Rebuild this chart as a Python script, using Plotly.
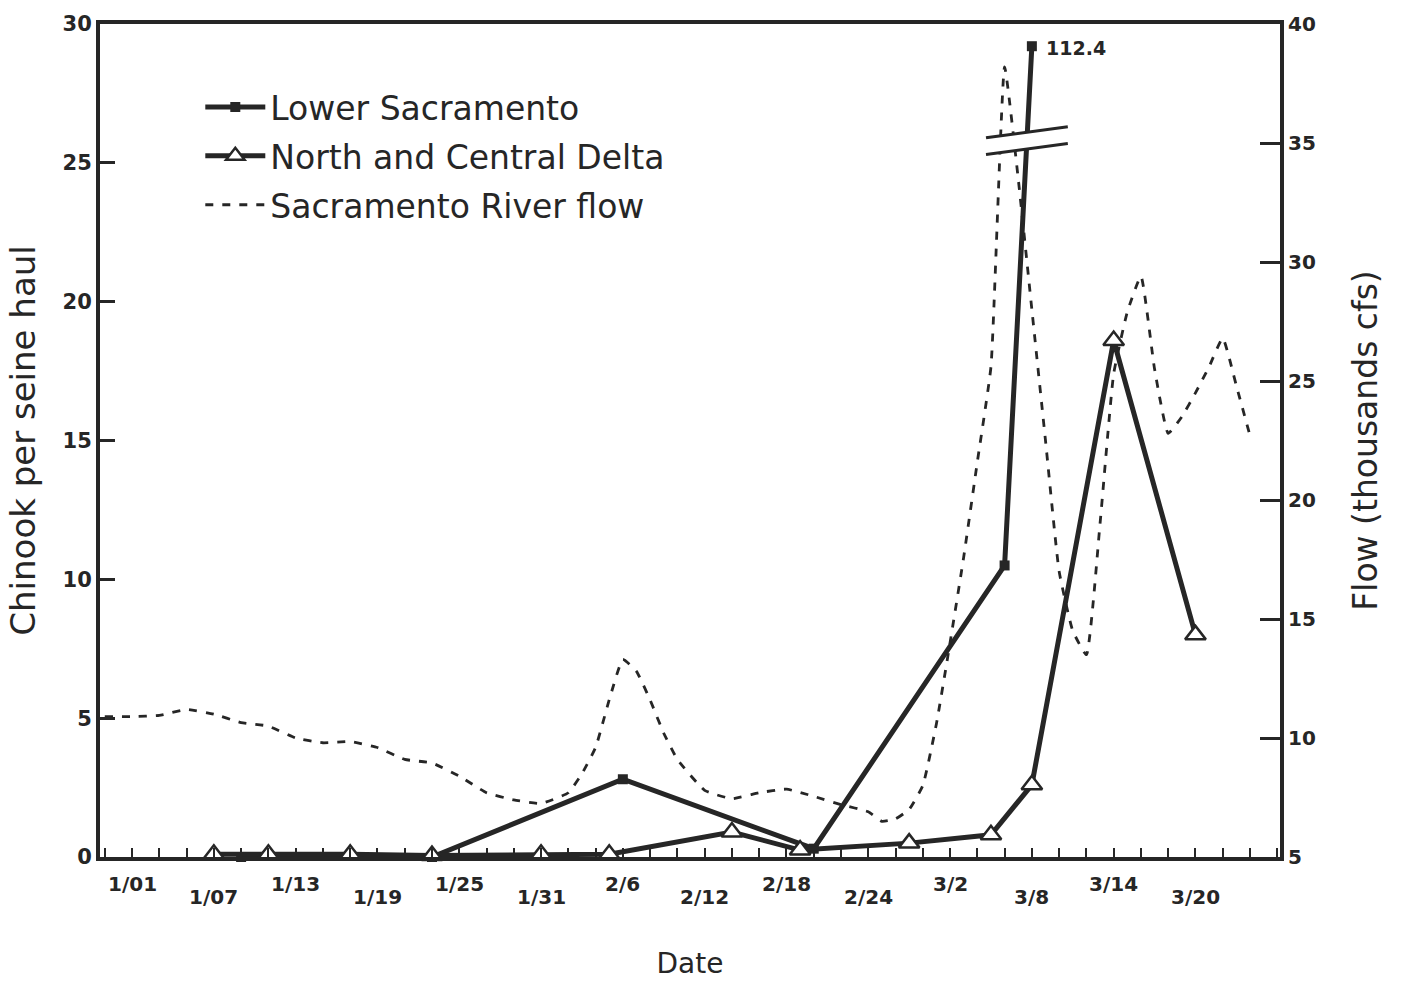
import plotly.graph_objects as go

# Day index counted from 1 January (0 = 1/01, 59 = 3/01)
tick_days = [0, 6, 12, 18, 24, 30, 36, 42, 48, 54, 60, 66, 72, 78]
tick_labels = ["1/01", "1/07", "1/13", "1/19", "1/25", "1/31", "2/6",
               "2/12", "2/18", "2/24", "3/2", "3/8", "3/14", "3/20"]

# Chinook per seine haul
ls_days = [8, 22, 36, 50, 64, 66]
ls_catch = [0.0, 0.0, 2.8, 0.3, 10.5, 112.4]

delta_days = [6, 10, 16, 22, 30, 35, 44, 49, 57, 63, 66, 72, 78]
delta_catch = [0.1, 0.1, 0.1, 0.05, 0.1, 0.1, 0.9, 0.25, 0.5, 0.8, 2.6, 18.6, 8.0]

# Sacramento River flow (thousands cfs)
flow_days = [-2, 0, 2, 4, 6, 8, 10, 12, 14, 16, 18, 20, 22, 24, 26, 28, 30, 32, 33, 34,
             35, 36, 37, 38, 39, 40, 42, 44, 46, 48, 50, 52, 54, 55, 56, 57, 58, 59, 60, 61,
             62, 63, 64, 65, 66, 67, 68, 69, 70, 71, 72, 73, 74, 75, 76, 77, 78, 79, 80, 81,
             82]
flow_kcfs = [10.9, 10.9, 10.95, 11.2, 11.0, 10.65, 10.5, 10.0, 9.8, 9.85,
             9.6, 9.1, 8.95, 8.4, 7.7, 7.4, 7.25, 7.7, 8.5, 9.6,
             11.6, 13.3, 12.8, 11.6, 10.2, 9.1, 7.8, 7.45, 7.7, 7.85,
             7.55, 7.2, 6.9, 6.5, 6.6, 7.0, 8.0, 10.6, 14.0, 17.6,
             21.6, 25.6, 38.2, 33.5, 28.0, 22.5, 17.0, 14.5, 13.5, 19.0,
             25.3, 27.9, 29.4, 25.5, 22.8, 23.5, 24.5, 25.6, 26.8, 24.8,
             22.7]

INK = "#262626"
FONT = "DejaVu Sans"

# Broken left axis: values above BREAK_AT are squeezed into the slot under the top frame
BREAK_AT = 25.8
TOP_SLOT = 29.2
top_value = max(ls_catch)


def on_axis(v):
    if v <= BREAK_AT:
        return v
    return BREAK_AT + (v - BREAK_AT) * (TOP_SLOT - BREAK_AT) / (top_value - BREAK_AT)


ls_shown = [on_axis(v) for v in ls_catch]

fig = go.Figure()

fig.add_trace(go.Scatter(
    x=flow_days, y=flow_kcfs, yaxis="y2", mode="lines",
    name="Sacramento River flow",
    line=dict(color=INK, width=2.8, dash="8px,9px", shape="spline", smoothing=0.4),
    legendrank=3, legendgroup="flow",
))

fig.add_trace(go.Scatter(
    x=ls_days, y=ls_shown, mode="lines+markers", name="Lower Sacramento",
    customdata=ls_catch,
    line=dict(color=INK, width=5),
    marker=dict(symbol="square", size=10, color=INK),
    cliponaxis=False, legendrank=1, legendgroup="lower",
))

fig.add_trace(go.Scatter(
    x=delta_days, y=delta_catch, mode="lines+markers", name="North and Central Delta",
    line=dict(color=INK, width=5),
    marker=dict(symbol="triangle-up", size=18, color="white",
                line=dict(color=INK, width=2.5)),
    cliponaxis=False, legendrank=2, legendgroup="delta",
))

# value label on the off-scale point
fig.add_annotation(x=ls_days[-1], y=ls_shown[-1], text=f"{top_value:.1f}",
                   showarrow=False, xanchor="left", xshift=12, yshift=-2,
                   font=dict(family=FONT, size=19, color=INK, weight="bold"))

# axis-break symbol where the Lower Sacramento line crosses BREAK_AT
i = next(k for k in range(1, len(ls_shown)) if ls_shown[k] > BREAK_AT)
x0, x1 = ls_days[i - 1], ls_days[i]
y0, y1 = ls_shown[i - 1], ls_shown[i]
xb = x0 + (BREAK_AT - y0) / (y1 - y0) * (x1 - x0)
half_w, tilt, gap = 3.0, 0.2, 0.3
fig.add_shape(type="path", layer="above", line=dict(width=0), fillcolor="white",
              path=(f"M{xb - half_w},{BREAK_AT - gap - tilt} L{xb + half_w},{BREAK_AT - gap + tilt} "
                    f"L{xb + half_w},{BREAK_AT + gap + tilt} L{xb - half_w},{BREAK_AT + gap - tilt} Z"))
for s in (-gap, gap):
    fig.add_shape(type="line", layer="above", x0=xb - half_w, x1=xb + half_w,
                  y0=BREAK_AT + s - tilt, y1=BREAK_AT + s + tilt,
                  line=dict(color=INK, width=3))

# staggered date labels
for k, (d, lab) in enumerate(zip(tick_days, tick_labels)):
    fig.add_annotation(x=d, y=0, yref="paper", text=lab, showarrow=False,
                       yanchor="middle", yshift=-27 if k % 2 == 0 else -40,
                       font=dict(family=FONT, size=20, color=INK, weight="bold"))

fig.update_layout(
    width=1403, height=983,
    margin=dict(l=100, r=123, t=22, b=124),
    paper_bgcolor="white", plot_bgcolor="white",
    font=dict(family=FONT, color=INK),
    showlegend=True,
    legend=dict(x=0.085, y=0.934, xanchor="left", yanchor="top",
                bgcolor="rgba(0,0,0,0)", traceorder="grouped", tracegroupgap=3,
                itemwidth=60, font=dict(family=FONT, size=33, color=INK)),
    xaxis=dict(range=[-2.35, 84.2], showgrid=False, zeroline=False,
               showline=True, linewidth=4, linecolor=INK, mirror=True,
               tickmode="linear", tick0=0, dtick=2, ticks="inside", ticklen=9,
               tickwidth=2, tickcolor=INK, showticklabels=False,
               title=dict(text="Date", font=dict(family=FONT, size=28, color=INK), standoff=94)),
    yaxis=dict(range=[0, 30], showgrid=False, zeroline=False,
               showline=True, linewidth=4, linecolor=INK,
               tickvals=[0, 5, 10, 15, 20, 25, 30], ticks="inside", ticklen=15,
               tickwidth=2.5, tickcolor=INK,
               tickfont=dict(family=FONT, size=21, color=INK, weight="bold"),
               title=dict(text="Chinook per seine haul",
                          font=dict(family=FONT, size=34, color=INK), standoff=18)),
    yaxis2=dict(range=[5, 40], overlaying="y", side="right", showgrid=False,
                zeroline=False, showline=True, linewidth=4, linecolor=INK,
                tickvals=[5, 10, 15, 20, 25, 30, 35, 40], ticks="inside", ticklen=20,
                tickwidth=2.5, tickcolor=INK,
                tickfont=dict(family=FONT, size=20, color=INK, weight="bold"),
                title=dict(text="Flow (thousands cfs)",
                           font=dict(family=FONT, size=33, color=INK), standoff=40)),
)

fig.write_html("out.html")
